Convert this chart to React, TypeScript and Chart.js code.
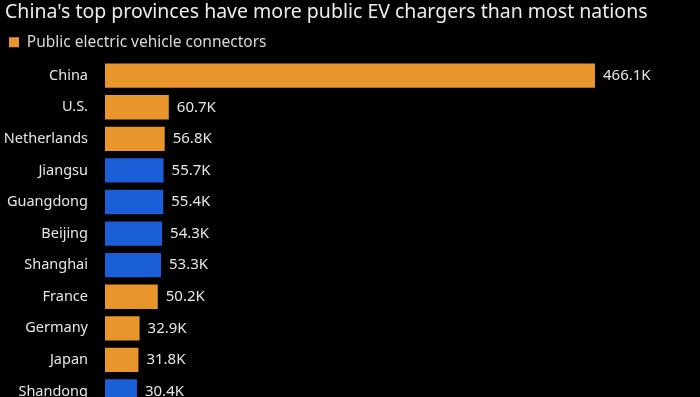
import React, { useEffect, useRef } from "react";
import { Chart, registerables } from "chart.js";

Chart.register(...registerables);

const categories = ["China", "U.S.", "Netherlands", "Jiangsu", "Guangdong", "Beijing", "Shanghai", "France", "Germany", "Japan", "Shandong"];
const values = [466.1, 60.7, 56.8, 55.7, 55.4, 54.3, 53.3, 50.2, 32.9, 31.8, 30.4];
const kinds = ["nation", "nation", "nation", "province", "province", "province", "province", "nation", "nation", "nation", "province"];
const valueLabels = ["466.1K", "60.7K", "56.8K", "55.7K", "55.4K", "54.3K", "53.3K", "50.2K", "32.9K", "31.8K", "30.4K"];
const titleText = "China's top provinces have more public EV chargers than most nations";
const seriesName = "Public electric vehicle connectors";

const ORANGE = "#E8952B";
const BLUE = "#1A5FD8";
const FONT = "'Noto Sans'";

const valueLabelPlugin = {
  id: "valueLabels",
  afterDatasetsDraw(chart: any) {
    const ctx = chart.ctx;
    const meta = chart.getDatasetMeta(0);
    ctx.save();
    ctx.fillStyle = "#e6e6e6";
    ctx.font = `15px ${FONT}`;
    ctx.textAlign = "left";
    ctx.textBaseline = "middle";
    meta.data.forEach((el: any, i: number) => {
      ctx.fillText(valueLabels[i], el.x + 8, el.y);
    });
    ctx.restore();
  },
};

const bgPlugin = {
  id: "bg",
  beforeDraw(chart: any) {
    const ctx = chart.ctx;
    ctx.save();
    ctx.fillStyle = "#000000";
    ctx.fillRect(0, 0, chart.width, chart.height);
    ctx.restore();
  },
};

export default function App() {
  const ref = useRef<HTMLCanvasElement>(null);
  useEffect(() => {
    if (!ref.current) return;
    const chart = new Chart(ref.current, {
      type: "bar",
      data: {
        labels: categories,
        datasets: [
          {
            label: seriesName,
            data: values,
            backgroundColor: kinds.map((k) => (k === "nation" ? ORANGE : BLUE)),
            borderWidth: 0,
            barPercentage: 0.77,
            categoryPercentage: 1,
          },
        ],
      },
      options: {
        indexAxis: "y",
        responsive: false,
        animation: false,
        layout: { padding: { top: 0, left: 5, right: 0, bottom: 0 } },
        plugins: {
          title: {
            display: true,
            text: titleText,
            align: "start",
            color: "#ececec",
            font: { family: FONT, size: 19.5, weight: "normal" },
            padding: { top: 1, bottom: 6 },
          },
          legend: {
            display: true,
            align: "start",
            labels: {
              color: "#d8d8d8",
              font: { family: FONT, size: 15.5 },
              boxWidth: 10,
              boxHeight: 10,
              padding: 4,
            },
          },
          tooltip: { enabled: false },
        },
        scales: {
          x: { display: false, min: 0, max: 566 },
          y: {
            grid: { display: false },
            border: { display: false },
            ticks: {
              color: "#e6e6e6",
              font: { family: FONT, size: 14.5 },
              padding: 9,
            },
            afterFit(scale: any) {
              scale.width = 100;
            },
          },
        },
      },
      plugins: [bgPlugin, valueLabelPlugin],
    });
    return () => chart.destroy();
  }, []);
  return (
    <div style={{ position: "fixed", left: 0, top: 0, width: 700, height: 397, overflow: "hidden", background: "#000" }}>
      <canvas ref={ref} width={700} height={425} style={{ display: "block" }} />
    </div>
  );
}
